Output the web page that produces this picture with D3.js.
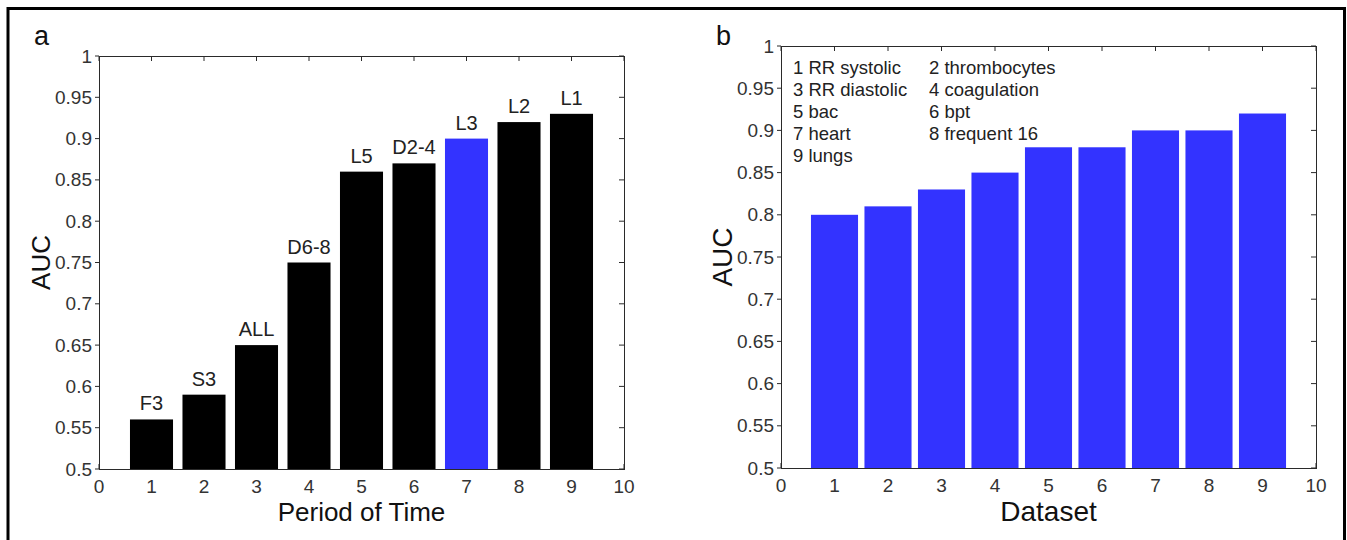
<!DOCTYPE html>
<html>
<head>
<meta charset="utf-8">
<script src="https://cdn.jsdelivr.net/npm/d3@7"></script>
<style>
  body { margin: 0; background: #fff; }
  svg { display: block; font-family: "Liberation Sans", Arial, sans-serif; }
</style>
</head>
<body>
<svg id="chart" width="1347" height="540"></svg>
<script>
// panel a: AUC per period of time
const periodLabels = ["F3", "S3", "ALL", "D6-8", "L5", "D2-4", "L3", "L2", "L1"];
const periodAuc = [0.56, 0.59, 0.65, 0.75, 0.86, 0.87, 0.90, 0.92, 0.93];

// panel b: AUC per dataset
const datasetIds = [1, 2, 3, 4, 5, 6, 7, 8, 9];
const datasetAuc = [0.80, 0.81, 0.83, 0.85, 0.88, 0.88, 0.90, 0.90, 0.92];
const legendLeft = ["1 RR systolic", "3 RR diastolic", "5 bac", "7 heart", "9 lungs"];
const legendRight = ["2 thrombocytes", "4 coagulation", "6 bpt", "8 frequent 16"];

const xTicks = d3.range(0, 11);
const yTicks = d3.range(0, 11).map((i) => 0.5 + i * 0.05);

const BLACK = "#000";
const BLUE = "#3333ff";
const AXIS = "#2a2a2a";
const TICKTXT = "#333";

const svg = d3.select("#chart");

// outer frame
svg.append("rect")
  .attr("x", 8).attr("y", 8.5)
  .attr("width", 1336.5).attr("height", 560)
  .attr("fill", "none").attr("stroke", "#000").attr("stroke-width", 3);

function fmt(v) {
  return String(+v.toFixed(2));
}

function drawPanel(p) {
  const x = d3.scaleLinear().domain([0, 10]).range([p.left, p.right]);
  const y = d3.scaleLinear().domain([0.5, 1]).range([p.bottom, p.top]);
  const g = svg.append("g");

  // ticks (inward top / right / bottom, outward left)
  g.selectAll(".tt").data(xTicks).join("line")
    .attr("x1", (d) => x(d)).attr("x2", (d) => x(d))
    .attr("y1", p.top).attr("y2", p.top + 5)
    .attr("stroke", AXIS);
  g.selectAll(".tb").data(xTicks).join("line")
    .attr("x1", (d) => x(d)).attr("x2", (d) => x(d))
    .attr("y1", p.bottom).attr("y2", p.bottom - 5)
    .attr("stroke", AXIS);
  g.selectAll(".tr").data(yTicks).join("line")
    .attr("x1", p.right).attr("x2", p.right - 5)
    .attr("y1", (d) => y(d)).attr("y2", (d) => y(d))
    .attr("stroke", AXIS);
  g.selectAll(".tl").data(yTicks).join("line")
    .attr("x1", p.left).attr("x2", p.left - 4)
    .attr("y1", (d) => y(d)).attr("y2", (d) => y(d))
    .attr("stroke", AXIS);

  // bars
  const bw = (x(1) - x(0)) * p.barWidth;
  g.selectAll(".bar").data(p.values).join("rect")
    .attr("x", (d, i) => x(i + 1) - bw / 2)
    .attr("y", (d) => y(d))
    .attr("width", bw)
    .attr("height", (d) => y(0.5) - y(d))
    .attr("fill", (d, i) => p.color(i));

  // box
  g.append("rect")
    .attr("x", p.left + 0.5).attr("y", p.top + 0.5)
    .attr("width", p.right - p.left).attr("height", p.bottom - p.top)
    .attr("fill", "none").attr("stroke", AXIS).attr("stroke-width", 1);

  // tick labels
  g.selectAll(".xl").data(xTicks).join("text")
    .attr("x", (d) => x(d)).attr("y", p.bottom + 24)
    .attr("text-anchor", "middle").attr("font-size", 19).attr("fill", TICKTXT)
    .text((d) => d);
  g.selectAll(".yl").data(yTicks).join("text")
    .attr("x", p.left - 7).attr("y", (d) => y(d) + 6.5)
    .attr("text-anchor", "end").attr("font-size", 19).attr("fill", TICKTXT)
    .text(fmt);

  // axis titles
  g.append("text")
    .attr("x", (p.left + p.right) / 2).attr("y", 521)
    .attr("text-anchor", "middle").attr("font-size", p.titleSize).attr("fill", "#111")
    .text(p.xTitle);
  g.append("text")
    .attr("transform", `translate(${p.yTitleX},${(p.top + p.bottom) / 2}) rotate(-90)`)
    .attr("text-anchor", "middle").attr("font-size", p.titleSize).attr("fill", "#111")
    .text("AUC");

  // panel letter
  g.append("text")
    .attr("x", p.letterX).attr("y", 45)
    .attr("font-size", 27).attr("fill", "#111")
    .text(p.letter);

  return { x, y, g };
}

const a = drawPanel({
  left: 99, right: 624, top: 56, bottom: 469,
  values: periodAuc, barWidth: 0.82,
  color: (i) => (periodLabels[i] === "L3" ? BLUE : BLACK),
  xTitle: "Period of Time", titleSize: 26, yTitleX: 50,
  letter: "a", letterX: 34,
});

a.g.selectAll(".bl").data(periodAuc).join("text")
  .attr("x", (d, i) => a.x(i + 1))
  .attr("y", (d) => a.y(d) - 9)
  .attr("text-anchor", "middle").attr("font-size", 20).attr("fill", "#222")
  .text((d, i) => periodLabels[i]);

const b = drawPanel({
  left: 781, right: 1316, top: 46, bottom: 468,
  values: datasetAuc, barWidth: 0.88,
  color: () => BLUE,
  xTitle: "Dataset", titleSize: 28, yTitleX: 732,
  letter: "b", letterX: 716,
});

b.g.selectAll(".lgl").data(legendLeft).join("text")
  .attr("x", 793).attr("y", (d, i) => 73.5 + i * 22.2)
  .attr("font-size", 18.5).attr("fill", "#222")
  .text((d) => d);
b.g.selectAll(".lgr").data(legendRight).join("text")
  .attr("x", 929).attr("y", (d, i) => 73.5 + i * 22.2)
  .attr("font-size", 18.5).attr("fill", "#222")
  .text((d) => d);
</script>
</body>
</html>
